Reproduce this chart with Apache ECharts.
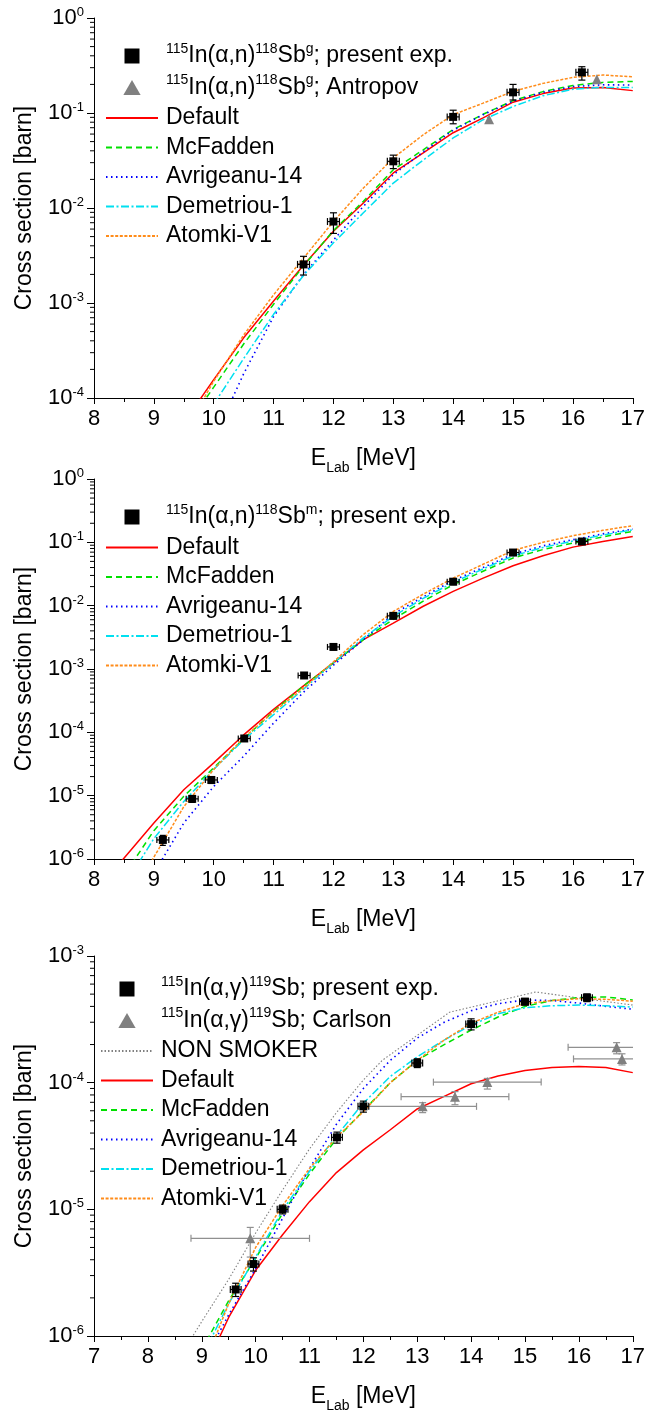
<!DOCTYPE html>
<html><head><meta charset="utf-8">
<script src="https://cdn.jsdelivr.net/npm/echarts@6/dist/echarts.min.js"></script>
<style>html,body{margin:0;padding:0;background:#fff}#c{width:648px;height:1416px}</style>
</head><body><div id="c"></div>
<script>
// ===== Panel 1: 115In(a,n)118Sb^g =====
const gCurveE   = [9.5, 10, 10.5, 11, 11.5, 12, 12.5, 13, 13.5, 14, 14.5, 15, 15.5, 16, 16.5, 17];
const gDefault  = [5.5e-5, 1.56e-4, 4.3e-4, 1.05e-3, 2.5e-3, 5.7e-3, 0.0113, 0.0234, 0.038, 0.062, 0.089, 0.13, 0.16, 0.183, 0.185, 0.172];
const gMcFadden = [4.6e-5, 1.3e-4, 3.7e-4, 9.7e-4, 2.45e-3, 5.8e-3, 0.0118, 0.0253, 0.041, 0.067, 0.097, 0.135, 0.168, 0.195, 0.21, 0.215];
const gAvrig    = [8e-6, 3.7e-5, 1.8e-4, 7.2e-4, 2.0e-3, 4.6e-3, 0.0104, 0.0224, 0.039, 0.066, 0.096, 0.133, 0.165, 0.19, 0.198, 0.197];
const gDemet    = [2.4e-5, 8.6e-5, 2.6e-4, 7.6e-4, 1.95e-3, 4.3e-3, 8.9e-3, 0.0183, 0.032, 0.0546, 0.085, 0.117, 0.152, 0.178, 0.186, 0.186];
const gAtomki   = [4.3e-5, 1.5e-4, 4.6e-4, 1.22e-3, 2.97e-3, 7.2e-3, 0.0162, 0.0336, 0.059, 0.096, 0.127, 0.169, 0.205, 0.237, 0.251, 0.241];
const gExpE  = [11.5, 12.0, 13.0, 14.0, 15.0, 16.15];
const gExpY  = [2.55e-3, 7.2e-3, 0.031, 0.091, 0.165, 0.268];
const gExpLo = [1.97e-3, 5.4e-3, 0.026, 0.077, 0.137, 0.222];
const gExpHi = [3.1e-3, 8.9e-3, 0.036, 0.107, 0.2, 0.307];
const gExpDE = [0.1, 0.1, 0.1, 0.1, 0.1, 0.1];
const gAntE  = [14.6, 16.4];
const gAntY  = [0.086, 0.226];

// ===== Panel 2: 115In(a,n)118Sb^m =====
const mCurveE   = [8.25, 8.5, 9, 9.5, 10, 10.5, 11, 11.5, 12, 12.5, 13, 13.5, 14, 14.5, 15, 15.5, 16, 16.5, 17];
const mDefault  = [5.2e-7, 1.03e-6, 3.7e-6, 1.24e-5, 3.3e-5, 9.1e-5, 2.3e-4, 5.4e-4, 1.25e-3, 2.9e-3, 5.3e-3, 9.8e-3, 0.0168, 0.0272, 0.0427, 0.0614, 0.084, 0.103, 0.124];
const mMcFadden = [2.5e-7, 5.5e-7, 2.8e-6, 9.8e-6, 2.75e-5, 7.9e-5, 2.15e-4, 5.4e-4, 1.25e-3, 2.9e-3, 6.1e-3, 0.0118, 0.0214, 0.035, 0.0565, 0.077, 0.0975, 0.122, 0.149];
const mAvrig    = [3e-8, 1.06e-7, 5.9e-7, 3.7e-6, 1.4e-5, 4.2e-5, 1.4e-4, 4.3e-4, 1.15e-3, 2.9e-3, 7.4e-3, 0.0138, 0.025, 0.04, 0.065, 0.088, 0.11, 0.136, 0.162];
const mDemet    = [1.3e-7, 3.7e-7, 2.1e-6, 8.1e-6, 2.6e-5, 7.6e-5, 1.9e-4, 4.8e-4, 1.25e-3, 3.1e-3, 6.8e-3, 0.013, 0.0233, 0.038, 0.061, 0.083, 0.105, 0.13, 0.158];
const mAtomki   = [4e-8, 1.5e-7, 1.07e-6, 6.7e-6, 2.6e-5, 8.2e-5, 2.1e-4, 5.0e-4, 1.3e-3, 3.5e-3, 8.1e-3, 0.0152, 0.0272, 0.045, 0.0745, 0.1, 0.127, 0.155, 0.183];
const mExpE   = [9.15, 9.64, 9.96, 10.51, 11.51, 12.0, 13.0, 14.0, 15.0, 16.15];
const mExpY   = [2.0e-6, 8.9e-6, 1.77e-5, 8.0e-5, 7.9e-4, 2.23e-3, 6.9e-3, 0.0239, 0.069, 0.103];
const mExpRel = [0.18, 0.12, 0.12, 0.1, 0.1, 0.1, 0.1, 0.1, 0.1, 0.1];
const mExpDE  = [0.1, 0.1, 0.1, 0.1, 0.1, 0.1, 0.1, 0.1, 0.1, 0.1];

// ===== Panel 3: 115In(a,g)119Sb =====
const aCurveE   = [9, 9.5, 10, 10.5, 11, 11.5, 12, 12.5, 13, 13.5, 14, 14.5, 15, 15.5, 16, 16.5, 17];
const aDefault  = [4.9e-7, 1.4e-6, 3.3e-6, 6.3e-6, 1.15e-5, 1.95e-5, 2.95e-5, 4.25e-5, 6.2e-5, 7.8e-5, 9.8e-5, 1.13e-4, 1.25e-4, 1.32e-4, 1.34e-4, 1.32e-4, 1.2e-4];
const aMcFadden = [7.8e-7, 1.9e-6, 4.1e-6, 9.3e-6, 1.9e-5, 3.6e-5, 6.0e-5, 1.0e-4, 1.5e-4, 2.0e-4, 2.6e-4, 3.3e-4, 4.0e-4, 4.45e-4, 4.7e-4, 4.75e-4, 4.5e-4];
const aAvrig    = [5.9e-7, 1.47e-6, 3.4e-6, 8.5e-6, 2.1e-5, 4.7e-5, 9.0e-5, 1.5e-4, 2.25e-4, 3.0e-4, 3.7e-4, 4.2e-4, 4.5e-4, 4.45e-4, 4.25e-4, 4.0e-4, 3.8e-4];
const aDemet    = [6.8e-7, 1.8e-6, 4.2e-6, 9.8e-6, 2.0e-5, 3.8e-5, 6.9e-5, 1.12e-4, 1.6e-4, 2.17e-4, 2.85e-4, 3.5e-4, 3.9e-4, 4.05e-4, 4.1e-4, 4.05e-4, 3.95e-4];
const aAtomki   = [5.3e-7, 1.8e-6, 5.0e-6, 1.07e-5, 2.1e-5, 3.7e-5, 5.9e-5, 1.0e-4, 1.5e-4, 2.17e-4, 2.95e-4, 3.6e-4, 4.2e-4, 4.45e-4, 4.6e-4, 4.55e-4, 4.4e-4];
const aNonSmokerE = [8.5, 9.0, 9.5, 10.0, 10.5, 11.0, 11.5, 12.0, 12.35, 13.6, 15.2, 16.1, 17.0];
const aNonSmoker  = [5.9e-7, 1.3e-6, 2.8e-6, 6.5e-6, 1.42e-5, 3.0e-5, 5.8e-5, 1.05e-4, 1.5e-4, 3.6e-4, 5.2e-4, 4.6e-4, 4.1e-4];
const aExpE   = [9.63, 9.96, 10.5, 11.51, 12.0, 13.0, 14.0, 15.0, 16.15];
const aExpY   = [2.33e-6, 3.7e-6, 1.0e-5, 3.7e-5, 6.5e-5, 1.43e-4, 2.9e-4, 4.36e-4, 4.69e-4];
const aExpRel = [0.12, 0.12, 0.08, 0.1, 0.1, 0.08, 0.1, 0.06, 0.07];
const aExpDE  = [0.1, 0.1, 0.1, 0.1, 0.1, 0.1, 0.1, 0.1, 0.1];
const aCarlE   = [9.9, 13.1, 13.7, 14.3, 16.7, 16.8];
const aCarlY   = [5.9e-6, 6.5e-5, 7.75e-5, 1.01e-4, 1.9e-4, 1.54e-4];
const aCarlYlo = [4.2e-6, 5.8e-5, 6.7e-5, 8.9e-5, 1.69e-4, 1.38e-4];
const aCarlYhi = [7.2e-6, 6.95e-5, 8.5e-5, 1.08e-4, 2.07e-4, 1.69e-4];
const aCarlElo = [8.8, 12.0, 12.7, 13.3, 15.8, 15.9];
const aCarlEhi = [11.0, 14.1, 14.7, 15.3, 17.6, 17.7];

// ===== axes ranges =====
const xRanges = [[8, 17], [8, 17], [7, 17]];
const yRanges = [[1e-4, 1], [1e-6, 1], [1e-6, 1e-3]];

const FONT = '"Liberation Sans", Arial, Helvetica, sans-serif';
const C = {red:'#ff0000', green:'#00e000', blue:'#0000ff', cyan:'#00e0f0', orange:'#ff8c1a', gray:'#808080'};
const STY = {
  'Default':      {color: C.red,    type: 'solid', width: 1.5},
  'McFadden':     {color: C.green,  type: [6, 4], width: 1.5},
  'Avrigeanu-14': {color: C.blue,   type: [1.5, 3.5], width: 1.6},
  'Demetriou-1':  {color: C.cyan,   type: [8, 2.5, 2, 2.5], width: 1.5},
  'Atomki-V1':    {color: C.orange, type: [3, 1.6], width: 1.5},
  'NON SMOKER':   {color: C.gray,   type: [1.5, 2], width: 1.1}
};

const NAME_G_EXP = '115In(α,n)118Sbg; present exp.';
const NAME_G_ANT = '115In(α,n)118Sbg; Antropov';
const NAME_M_EXP = '115In(α,n)118Sbm; present exp.';
const NAME_A_EXP = '115In(α,γ)119Sb; present exp.';
const NAME_A_CAR = '115In(α,γ)119Sb; Carlson';
const RICH = {};
RICH[NAME_G_EXP] = '{s|115}{n|In(α,n)}{s|118}{n|Sb}{s|g}{n|; present exp.}';
RICH[NAME_G_ANT] = '{s|115}{n|In(α,n)}{s|118}{n|Sb}{s|g}{n|; Antropov}';
RICH[NAME_M_EXP] = '{s|115}{n|In(α,n)}{s|118}{n|Sb}{s|m}{n|; present exp.}';
RICH[NAME_A_EXP] = '{s|115}{n|In(α,γ)}{s|119}{n|Sb; present exp.}';
RICH[NAME_A_CAR] = '{s|115}{n|In(α,γ)}{s|119}{n|Sb; Carlson}';
const SQUARE_ICON = 'path://M0,0L10,0L10,10L0,10Z';
const TRI_ICON = 'path://M5,0L10,8.7L0,8.7Z';

const series = [];
function addLine(gi, name, E, Y) {
  const s = STY[name];
  series.push({type: 'line', name, xAxisIndex: gi, yAxisIndex: gi,
    data: E.map((e, i) => [e, Y[i]]), showSymbol: false, symbol: 'none', smooth: false,
    lineStyle: {color: s.color, type: s.type, width: s.width}, itemStyle: {color: s.color},
    silent: true, animation: false, clip: true, z: 3});
}
function addScatter(gi, name, E, Y, symbol, color, size) {
  series.push({type: 'scatter', name, xAxisIndex: gi, yAxisIndex: gi,
    data: E.map((e, i) => [e, Y[i]]), symbol, symbolSize: size,
    itemStyle: {color, opacity: 1}, silent: true, animation: false, z: 6});
}
// rows: [x, y, ylo, yhi, xlo, xhi]
function addErr(gi, rows, color, cap) {
  series.push({type: 'custom', xAxisIndex: gi, yAxisIndex: gi, data: rows, silent: true,
    animation: false, clip: true, z: 5,
    encode: {x: [0, 4, 5], y: [1, 2, 3]},
    renderItem: function (params, api) {
      const x = api.value(0), y = api.value(1);
      const pl = api.coord([x, api.value(2)]), ph = api.coord([x, api.value(3)]);
      const xl = api.coord([api.value(4), y]), xh = api.coord([api.value(5), y]);
      const st = {stroke: color, lineWidth: 1.2};
      const L = (x1, y1, x2, y2) => ({type: 'line', shape: {x1, y1, x2, y2}, style: st});
      return {type: 'group', children: [
        L(pl[0], pl[1], ph[0], ph[1]),
        L(pl[0] - cap, pl[1], pl[0] + cap, pl[1]),
        L(ph[0] - cap, ph[1], ph[0] + cap, ph[1]),
        L(xl[0], xl[1], xh[0], xh[1]),
        L(xl[0], xl[1] - cap, xl[0], xl[1] + cap),
        L(xh[0], xh[1] - cap, xh[0], xh[1] + cap)
      ]};
    }});
}
// log minor ticks on y axis (axis decoration drawn through the axis scale)
function addMinorTicks(gi) {
  const vals = [];
  const lo = Math.round(Math.log10(yRanges[gi][0])), hi = Math.round(Math.log10(yRanges[gi][1]));
  for (let d = lo; d < hi; d++) for (let k = 2; k <= 9; k++) vals.push([xRanges[gi][0], k * Math.pow(10, d)]);
  series.push({type: 'custom', xAxisIndex: gi, yAxisIndex: gi, data: vals, silent: true, animation: false,
    clip: false, z: 10,
    renderItem: function (params, api) {
      const p = api.coord([api.value(0), api.value(1)]);
      return {type: 'line', shape: {x1: p[0] - 4, y1: p[1], x2: p[0], y2: p[1]}, style: {stroke: '#000', lineWidth: 1}};
    }});
}

// panel 1
addLine(0, 'Default', gCurveE, gDefault);
addLine(0, 'McFadden', gCurveE, gMcFadden);
addLine(0, 'Avrigeanu-14', gCurveE, gAvrig);
addLine(0, 'Demetriou-1', gCurveE, gDemet);
addLine(0, 'Atomki-V1', gCurveE, gAtomki);
addErr(0, gExpE.map((e, i) => [e, gExpY[i], gExpLo[i], gExpHi[i], e - gExpDE[i], e + gExpDE[i]]), '#000', 3.5);
addScatter(0, NAME_G_EXP, gExpE, gExpY, 'rect', '#000', 8);
addScatter(0, NAME_G_ANT, gAntE, gAntY, 'triangle', C.gray, 10);
addMinorTicks(0);
// panel 2
addLine(1, 'Default', mCurveE, mDefault);
addLine(1, 'McFadden', mCurveE, mMcFadden);
addLine(1, 'Avrigeanu-14', mCurveE, mAvrig);
addLine(1, 'Demetriou-1', mCurveE, mDemet);
addLine(1, 'Atomki-V1', mCurveE, mAtomki);
addErr(1, mExpE.map((e, i) => [e, mExpY[i], mExpY[i] * (1 - mExpRel[i]), mExpY[i] * (1 + mExpRel[i]), e - mExpDE[i], e + mExpDE[i]]), '#000', 3);
addScatter(1, NAME_M_EXP, mExpE, mExpY, 'rect', '#000', 8);
addMinorTicks(1);
// panel 3
addLine(2, 'NON SMOKER', aNonSmokerE, aNonSmoker);
addLine(2, 'Default', aCurveE, aDefault);
addLine(2, 'McFadden', aCurveE, aMcFadden);
addLine(2, 'Avrigeanu-14', aCurveE, aAvrig);
addLine(2, 'Demetriou-1', aCurveE, aDemet);
addLine(2, 'Atomki-V1', aCurveE, aAtomki);
addErr(2, aCarlE.map((e, i) => [e, aCarlY[i], aCarlYlo[i], aCarlYhi[i], aCarlElo[i], aCarlEhi[i]]), '#909090', 3.5);
addErr(2, aExpE.map((e, i) => [e, aExpY[i], aExpY[i] * (1 - aExpRel[i]), aExpY[i] * (1 + aExpRel[i]), e - aExpDE[i], e + aExpDE[i]]), '#000', 3.5);
addScatter(2, NAME_A_EXP, aExpE, aExpY, 'rect', '#000', 8);
addScatter(2, NAME_A_CAR, aCarlE, aCarlY, 'triangle', C.gray, 10);
addMinorTicks(2);

const tops = [18, 479, 956];
const grids = tops.map(t => ({left: 94, top: t, width: 542, height: 380, containLabel: false}));

const xAxes = xRanges.map((r, gi) => ({
  type: 'value', gridIndex: gi, min: r[0], max: r[1], interval: 1,
  axisLine: {show: true, lineStyle: {color: '#000', width: 1}},
  axisTick: {show: true, inside: false, length: 6, lineStyle: {color: '#000'}},
  minorTick: {show: true, splitNumber: 2, length: 4, lineStyle: {color: '#000'}},
  splitLine: {show: false},
  axisLabel: {color: '#000', fontSize: 22, fontFamily: FONT, margin: 10},
  name: '{e|E}{l|Lab}{e| [MeV]}', nameLocation: 'middle', nameGap: 45,
  nameTextStyle: {color: '#000', fontFamily: FONT, rich: {
    e: {fontSize: 23, lineHeight: 32, fontFamily: FONT, color: '#000'},
    l: {fontSize: 14, lineHeight: 14, verticalAlign: 'bottom', fontFamily: FONT, color: '#000'}}}
}));

const yAxes = yRanges.map((r, gi) => ({
  type: 'log', logBase: 10, gridIndex: gi, min: r[0], max: r[1],
  axisLine: {show: true, lineStyle: {color: '#000', width: 1}},
  axisTick: {show: true, inside: false, length: 7, lineStyle: {color: '#000'}},
  splitLine: {show: false},
  axisLabel: {color: '#000', margin: 10, fontFamily: FONT,
    formatter: v => '{b|10}{s|' + Math.round(Math.log10(v)) + '}',
    rich: {b: {fontSize: 22, lineHeight: 24, fontFamily: FONT, color: '#000'},
           s: {fontSize: 13, lineHeight: 13, verticalAlign: 'top', fontFamily: FONT, color: '#000'}}},
  name: 'Cross section [barn]', nameLocation: 'middle', nameGap: 58, nameRotate: 90,
  nameTextStyle: {color: '#000', fontSize: 23, fontFamily: FONT}
}));

function legendItem(n) {
  if (n.indexOf('Antropov') >= 0 || n.indexOf('Carlson') >= 0) return {name: n, icon: TRI_ICON};
  if (n.indexOf('present exp.') >= 0) return {name: n, icon: SQUARE_ICON};
  return {name: n, itemStyle: {opacity: 0}};
}
function legendCfg(names, left, top) {
  return {data: names.map(legendItem), orient: 'vertical', left, top, padding: 0, itemGap: 3.5,
    itemWidth: 52, itemHeight: 15, selectedMode: false, symbolKeepAspect: true,
    formatter: n => RICH[n] || n,
    textStyle: {color: '#000', fontSize: 23, lineHeight: 26, fontFamily: FONT, padding: [0, 0, 0, 3],
      rich: {n: {fontSize: 23, lineHeight: 28, fontFamily: FONT, color: '#000'},
             s: {fontSize: 14, lineHeight: 14, verticalAlign: 'top', fontFamily: FONT, color: '#000'}}}};
}
const models = ['Default', 'McFadden', 'Avrigeanu-14', 'Demetriou-1', 'Atomki-V1'];
const legends = [
  legendCfg([NAME_G_EXP, NAME_G_ANT].concat(models), 105, 42),
  legendCfg([NAME_M_EXP].concat(models), 105, 503),
  legendCfg([NAME_A_EXP, NAME_A_CAR, 'NON SMOKER'].concat(models), 100, 975)
];

const chart = echarts.init(document.getElementById('c'), null, {renderer: 'canvas'});
chart.setOption({
  backgroundColor: '#fff', animation: false,
  grid: grids, xAxis: xAxes, yAxis: yAxes, legend: legends, series
});
</script></body></html>
